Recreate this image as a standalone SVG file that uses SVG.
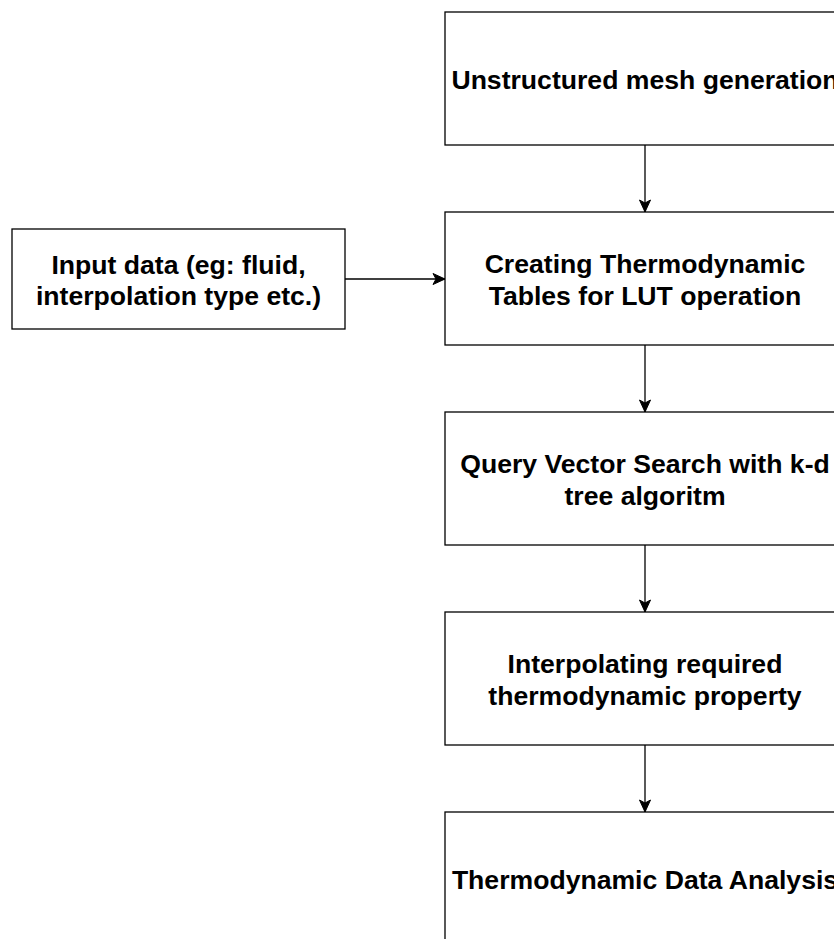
<svg xmlns="http://www.w3.org/2000/svg" width="834" height="939" viewBox="0 0 834 939">
<style>
.box{fill:#ffffff;stroke:#000000;stroke-width:1.3}
.t{font-family:"Liberation Sans",Arial,sans-serif;font-weight:bold;font-size:26.6px;fill:#000000;text-anchor:middle}
.edge{fill:none;stroke:#000000;stroke-width:1.3}
</style>
<defs>
<marker id="arrow" markerUnits="userSpaceOnUse" markerWidth="14" markerHeight="14" viewBox="0 0 14 14" refX="13" refY="7" orient="auto">
<path d="M1,1.5 L13,7 L1,12.5 L4,7 Z" fill="#000000" stroke="#000000" stroke-width="1"/>
</marker>
</defs>
<rect width="834" height="939" fill="#ffffff"/>
<g id="connectors">
<line class="edge" x1="645" y1="145" x2="645" y2="212" marker-end="url(#arrow)"/>
<line class="edge" x1="645" y1="345" x2="645" y2="412" marker-end="url(#arrow)"/>
<line class="edge" x1="645" y1="545" x2="645" y2="612" marker-end="url(#arrow)"/>
<line class="edge" x1="645" y1="745" x2="645" y2="812" marker-end="url(#arrow)"/>
<line class="edge" x1="345" y1="279" x2="445" y2="279" marker-end="url(#arrow)"/>
</g>
<g id="mesh">
<rect class="box" x="445" y="12" width="400" height="133"/>
<text class="t" x="645" y="88.5">Unstructured mesh generation</text>
</g>
<g id="input">
<rect class="box" x="12" y="229" width="333" height="100"/>
<text class="t" x="178.5" y="273.5">Input data (eg: fluid,</text>
<text class="t" x="178.5" y="305">interpolation type etc.)</text>
</g>
<g id="tables">
<rect class="box" x="445" y="212" width="400" height="133"/>
<text class="t" x="645" y="273">Creating Thermodynamic</text>
<text class="t" x="645" y="304.5">Tables for LUT operation</text>
</g>
<g id="query">
<rect class="box" x="445" y="412" width="400" height="133"/>
<text class="t" x="645" y="473">Query Vector Search with k-d</text>
<text class="t" x="645" y="504.5">tree algoritm</text>
</g>
<g id="interp">
<rect class="box" x="445" y="612" width="400" height="133"/>
<text class="t" x="645" y="673">Interpolating required</text>
<text class="t" x="645" y="704.5">thermodynamic property</text>
</g>
<g id="analysis">
<rect class="box" x="445" y="812" width="400" height="133"/>
<text class="t" x="645" y="888.5">Thermodynamic Data Analysis</text>
</g>
</svg>
